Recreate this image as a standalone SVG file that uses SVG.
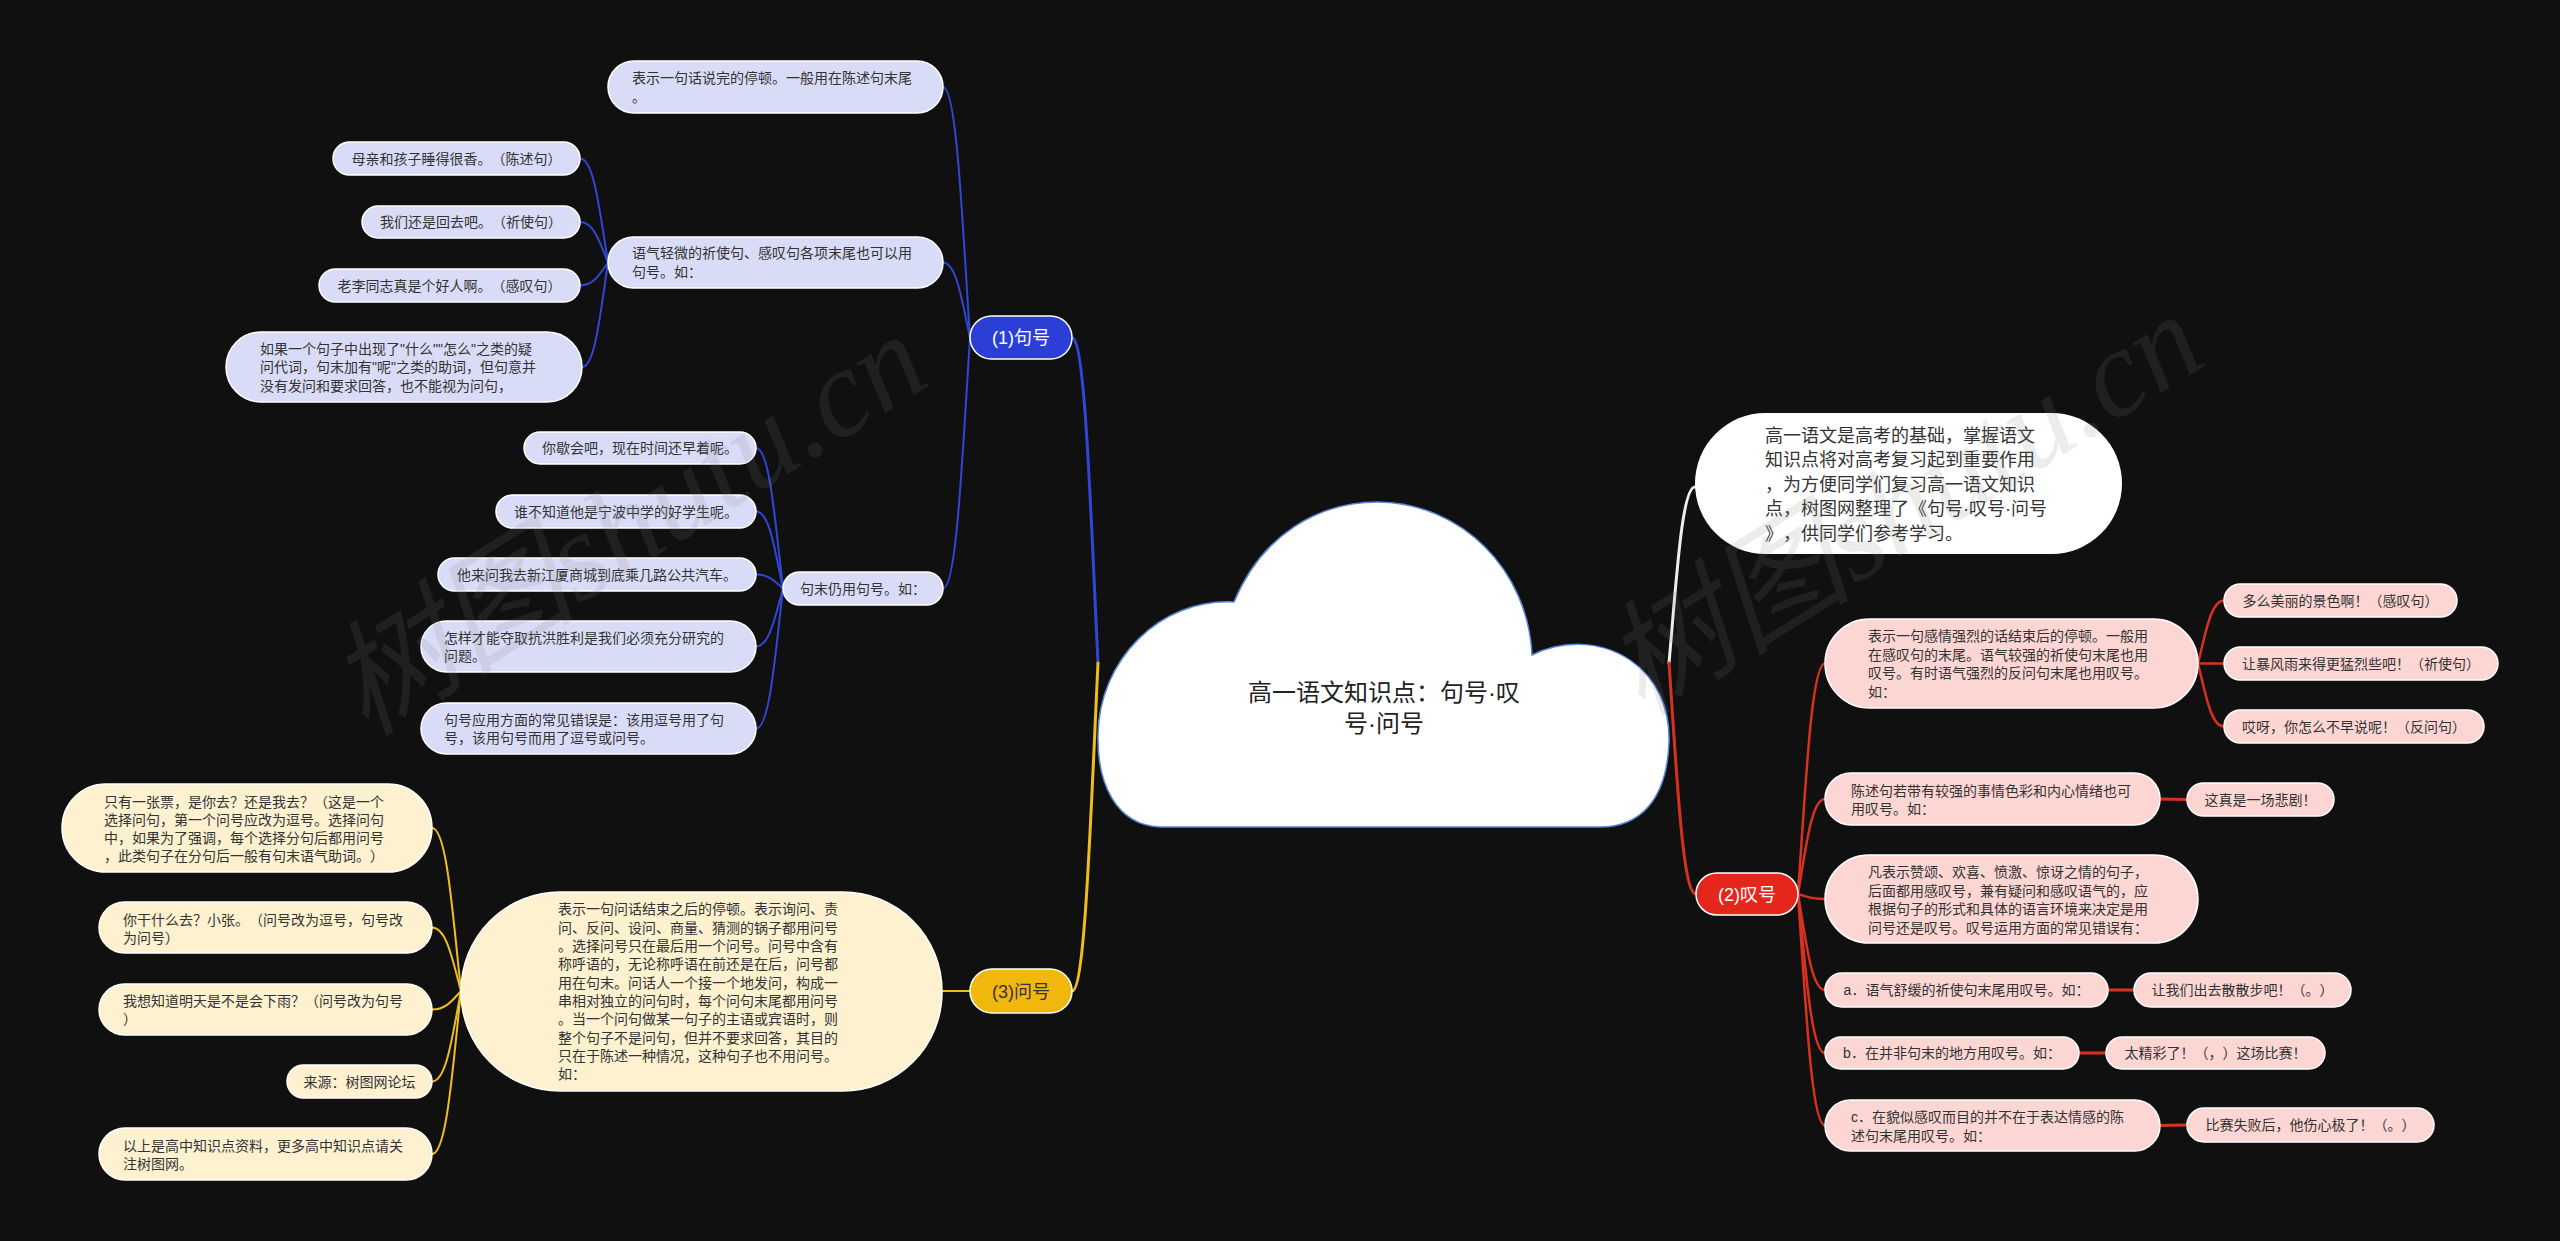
<svg xmlns="http://www.w3.org/2000/svg" width="2560" height="1241" viewBox="0 0 2560 1241">
<style>
text{font-family:"Liberation Sans","Noto Sans CJK SC",sans-serif;text-spacing-trim:space-all;}
.t{font-size:14px;fill:#333;}
.m{text-anchor:middle;}
.tm{font-size:18px;}
.bl{fill:#d9dcf7;stroke:#fff;stroke-width:1.5;}
.bm{fill:#2b3fd6;stroke:#fff;stroke-width:1.5;}
.yl{fill:#fdf1d0;stroke:#fff;stroke-width:1.5;}
.ym{fill:#f0b70c;stroke:#fff;stroke-width:1.5;}
.rl{fill:#fcd6d3;stroke:#fff;stroke-width:1.5;}
.rm{fill:#e5261b;stroke:#fff;stroke-width:1.5;}
.wh{fill:#fff;}
.c{fill:none;stroke-width:2;stroke-linecap:round;}
.cb{stroke:#3047d6;}
.cy{stroke:#f0bc20;}
.cr{stroke:#d8321f;stroke-width:2.5;}
.cw{stroke:#eeeeee;}
.main{stroke-width:3;}
.wm{font-family:"Liberation Serif","Noto Sans CJK SC",serif;font-size:125px;font-style:italic;fill:#808080;opacity:0.14;}
</style>
<rect x="0" y="0" width="2560" height="1241" fill="#101010"/>

<g id="connectors">
<path class="c cb main" d="M1098,663 C1090.2,500.5 1085,338 1072,338"/>
<path class="c cy main" d="M1098,663 C1090.2,827 1085,991 1072,991"/>
<path class="c cw main" d="M1669,663 C1676.8,575 1682,487 1695,487"/>
<path class="c cr main" d="M1669,663 C1677.1,778.5 1682.5,894 1696,894"/>
<path class="c cb" d="M970,338 C961.9,212.5 956.5,87 943,87"/>
<path class="c cb" d="M970,338 C961.9,300.25 956.5,262.5 943,262.5"/>
<path class="c cb" d="M970,338 C961.9,463.25 956.5,588.5 943,588.5"/>
<path class="c cb" d="M608,262.5 C599.6,210.5 594,158.5 580,158.5"/>
<path class="c cb" d="M608,262.5 C599.6,242.25 594,222 580,222"/>
<path class="c cb" d="M608,262.5 C599.6,274 594,285.5 580,285.5"/>
<path class="c cb" d="M608,262.5 C600.2,314.75 595,367 582,367"/>
<path class="c cb" d="M783,588.5 C774.9,518.25 769.5,448 756,448"/>
<path class="c cb" d="M783,588.5 C774.9,550 769.5,511.5 756,511.5"/>
<path class="c cb" d="M783,588.5 C774.9,581.5 769.5,574.5 756,574.5"/>
<path class="c cb" d="M783,588.5 C774.9,617.5 769.5,646.5 756,646.5"/>
<path class="c cb" d="M783,588.5 C774.9,658.5 769.5,728.5 756,728.5"/>
<path class="c cy" d="M970,991 L942,991"/>
<path class="c cy" d="M461,991 C452.3,909.5 446.5,828 432,828"/>
<path class="c cy" d="M461,991 C452.3,959.25 446.5,927.5 432,927.5"/>
<path class="c cy" d="M461,991 C452.3,1000.25 446.5,1009.5 432,1009.5"/>
<path class="c cy" d="M461,991 C452.3,1036.25 446.5,1081.5 432,1081.5"/>
<path class="c cy" d="M461,991 C452.3,1072.5 446.5,1154 432,1154"/>
<path class="c cr" d="M1798,894 C1806.1,778.75 1811.5,663.5 1825,663.5"/>
<path class="c cr" d="M1798,894 C1806.1,846.5 1811.5,799 1825,799"/>
<path class="c cr" d="M1798,894 C1806.1,896.5 1811.5,899 1825,899"/>
<path class="c cr" d="M1798,894 C1806.1,942 1811.5,990 1825,990"/>
<path class="c cr" d="M1798,894 C1806.1,973.5 1811.5,1053 1825,1053"/>
<path class="c cr" d="M1798,894 C1806.1,1009.75 1811.5,1125.5 1825,1125.5"/>
<path class="c cr" d="M2198,663.5 C2205.8,632 2211,600.5 2224,600.5"/>
<path class="c cr" d="M2198,663.5 L2224,663.5"/>
<path class="c cr" d="M2198,663.5 C2205.8,695 2211,726.5 2224,726.5"/>
<path class="c cr" style="stroke-width:3" d="M2160,799 L2187,799.5"/>
<path class="c cr" style="stroke-width:3" d="M2108,990 L2134,990"/>
<path class="c cr" style="stroke-width:3" d="M2079,1053 L2106,1053"/>
<path class="c cr" style="stroke-width:3" d="M2160,1125.5 L2187,1125"/>
</g>

<g id="root">
<path d="M1160,827 C1115,825 1097,782 1098,735 C1099,660 1160,598 1234,602 C1262,535 1318,502 1378,502 C1462,503 1528,570 1532,655 C1562,640 1600,640 1630,660 C1658,679 1670,710 1669,742 C1667,800 1640,827 1600,827 Z" fill="#fff" stroke="#5a86d6" stroke-width="1.5"/>
<text class="m" font-size="24" fill="#222" x="1384" y="701">高一语文知识点：句号·叹</text>
<text class="m" font-size="24" fill="#222" x="1384" y="732">号·问号</text>
</g>

<g id="b1">
<rect class="bm" x="970" y="316" width="102" height="43" rx="21.5"/>
<text class="tm m" fill="#fff" x="1021" y="344.3">(1)句号</text>
</g>
<g id="n1">
<rect class="bl" x="608" y="61" width="335" height="52" rx="26"/>
<text class="t"><tspan x="632" y="82.8">表示一句话说完的停顿。一般用在陈述句末尾</tspan><tspan x="632" y="101.8">。</tspan></text>
</g>
<g id="n2">
<rect class="bl" x="608" y="237" width="335" height="51" rx="25.5"/>
<text class="t"><tspan x="632" y="258.3">语气轻微的祈使句、感叹句各项末尾也可以用</tspan><tspan x="632" y="277.3">句号。如：</tspan></text>
</g>
<g id="n3">
<rect class="bl" x="333" y="142" width="247" height="33" rx="16.5"/>
<text class="t m" x="456.5" y="163.8">母亲和孩子睡得很香。（陈述句）</text>
</g>
<g id="n4">
<rect class="bl" x="362" y="206" width="218" height="32" rx="16"/>
<text class="t m" x="471" y="227.3">我们还是回去吧。（祈使句）</text>
</g>
<g id="n5">
<rect class="bl" x="319" y="269" width="261" height="33" rx="16.5"/>
<text class="t m" x="449.5" y="290.8">老李同志真是个好人啊。（感叹句）</text>
</g>
<g id="n6">
<rect class="bl" x="226" y="332" width="356" height="70" rx="35"/>
<text class="t"><tspan x="260" y="353.8">如果一个句子中出现了"什么""怎么"之类的疑</tspan><tspan x="260" y="372.3">问代词，句末加有"呢"之类的助词，但句意并</tspan><tspan x="260" y="390.8">没有发问和要求回答，也不能视为问句，</tspan></text>
</g>
<g id="n7">
<rect class="bl" x="783" y="572" width="160" height="33" rx="16.5"/>
<text class="t m" x="863" y="593.8">句末仍用句号。如：</text>
</g>
<g id="n8">
<rect class="bl" x="524" y="432" width="232" height="32" rx="16"/>
<text class="t m" x="640" y="453.3">你歇会吧，现在时间还早着呢。</text>
</g>
<g id="n9">
<rect class="bl" x="496" y="495" width="260" height="33" rx="16.5"/>
<text class="t m" x="626" y="516.8">谁不知道他是宁波中学的好学生呢。</text>
</g>
<g id="n10">
<rect class="bl" x="438" y="558" width="318" height="33" rx="16.5"/>
<text class="t m" x="597" y="579.8">他来问我去新江厦商城到底乘几路公共汽车。</text>
</g>
<g id="n11">
<rect class="bl" x="421" y="621" width="335" height="51" rx="25.5"/>
<text class="t"><tspan x="444" y="642.5">怎样才能夺取抗洪胜利是我们必须充分研究的</tspan><tspan x="444" y="661">问题。</tspan></text>
</g>
<g id="n12">
<rect class="bl" x="421" y="703" width="335" height="51" rx="25.5"/>
<text class="t"><tspan x="444" y="724.5">句号应用方面的常见错误是：该用逗号用了句</tspan><tspan x="444" y="743">号，该用句号而用了逗号或问号。</tspan></text>
</g>

<g id="y0">
<rect class="ym" x="970" y="969" width="102" height="44" rx="22"/>
<text class="tm m" fill="#333" x="1021" y="997.8">(3)问号</text>
</g>
<g id="yb">
<rect class="yl" x="461" y="892" width="481" height="199" rx="99"/>
<text class="t"><tspan x="558" y="914.4">表示一句问话结束之后的停顿。表示询问、责</tspan><tspan x="558" y="932.7">问、反问、设问、商量、猜测的锅子都用问号</tspan><tspan x="558" y="951">。选择问号只在最后用一个问号。问号中含有</tspan><tspan x="558" y="969.3">称呼语的，无论称呼语在前还是在后，问号都</tspan><tspan x="558" y="987.6">用在句末。问话人一个接一个地发问，构成一</tspan><tspan x="558" y="1005.9">串相对独立的问句时，每个问句末尾都用问号</tspan><tspan x="558" y="1024.2">。当一个问句做某一句子的主语或宾语时，则</tspan><tspan x="558" y="1042.5">整个句子不是问句，但并不要求回答，其目的</tspan><tspan x="558" y="1060.8">只在于陈述一种情况，这种句子也不用问号。</tspan><tspan x="558" y="1079.1">如：</tspan></text>
</g>
<g id="y1">
<rect class="yl" x="62" y="784" width="370" height="88" rx="44"/>
<text class="t"><tspan x="104" y="807.3">只有一张票，是你去？还是我去？（这是一个</tspan><tspan x="104" y="825.3">选择问句，第一个问号应改为逗号。选择问句</tspan><tspan x="104" y="843.3">中，如果为了强调，每个选择分句后都用问号</tspan><tspan x="104" y="861.3">，此类句子在分句后一般有句末语气助词。）</tspan></text>
</g>
<g id="y2">
<rect class="yl" x="99" y="902" width="333" height="51" rx="25.5"/>
<text class="t"><tspan x="123" y="925.3">你干什么去？小张。（问号改为逗号，句号改</tspan><tspan x="123" y="943.3">为问号）</tspan></text>
</g>
<g id="y3">
<rect class="yl" x="99" y="984" width="333" height="51" rx="25.5"/>
<text class="t"><tspan x="123" y="1006.3">我想知道明天是不是会下雨？（问号改为句号</tspan><tspan x="123" y="1024.3">）</tspan></text>
</g>
<g id="y4">
<rect class="yl" x="287" y="1065" width="145" height="33" rx="16.5"/>
<text class="t m" x="359.5" y="1086.8">来源：树图网论坛</text>
</g>
<g id="y5">
<rect class="yl" x="99" y="1128" width="333" height="52" rx="26"/>
<text class="t"><tspan x="123" y="1151.3">以上是高中知识点资料，更多高中知识点请关</tspan><tspan x="123" y="1169.3">注树图网。</tspan></text>
</g>

<g id="w1">
<rect class="wh" x="1695" y="413" width="427" height="141" rx="70.5"/>
<text font-size="18" fill="#333"><tspan x="1765" y="441.8">高一语文是高考的基础，掌握语文</tspan><tspan x="1765" y="466.3">知识点将对高考复习起到重要作用</tspan><tspan x="1765" y="490.8">，为方便同学们复习高一语文知识</tspan><tspan x="1765" y="515.3">点，树图网整理了《句号·叹号·问号</tspan><tspan x="1765" y="539.8">》，供同学们参考学习。</tspan></text>
</g>

<g id="r0">
<rect class="rm" x="1696" y="873" width="102" height="42" rx="21"/>
<text class="tm m" fill="#fff" x="1747" y="900.8">(2)叹号</text>
</g>
<g id="r1">
<rect class="rl" x="1825" y="619" width="373" height="89" rx="44.5"/>
<text class="t"><tspan x="1868" y="641.3">表示一句感情强烈的话结束后的停顿。一般用</tspan><tspan x="1868" y="659.8">在感叹句的末尾。语气较强的祈使句末尾也用</tspan><tspan x="1868" y="678.3">叹号。有时语气强烈的反问句末尾也用叹号。</tspan><tspan x="1868" y="696.8">如：</tspan></text>
</g>
<g id="r1a">
<rect class="rl" x="2224" y="584" width="233" height="33" rx="16.5"/>
<text class="t m" x="2340.5" y="605.8">多么美丽的景色啊！（感叹句）</text>
</g>
<g id="r1b">
<rect class="rl" x="2224" y="647" width="274" height="33" rx="16.5"/>
<text class="t m" x="2361" y="668.8">让暴风雨来得更猛烈些吧！（祈使句）</text>
</g>
<g id="r1c">
<rect class="rl" x="2224" y="710" width="260" height="33" rx="16.5"/>
<text class="t m" x="2354" y="731.8">哎呀，你怎么不早说呢！（反问句）</text>
</g>
<g id="r2">
<rect class="rl" x="1825" y="773" width="335" height="52" rx="26"/>
<text class="t"><tspan x="1851" y="795.8">陈述句若带有较强的事情色彩和内心情绪也可</tspan><tspan x="1851" y="814.3">用叹号。如：</tspan></text>
</g>
<g id="r2a">
<rect class="rl" x="2187" y="783" width="147" height="33" rx="16.5"/>
<text class="t m" x="2260.5" y="804.8">这真是一场悲剧！</text>
</g>
<g id="r3">
<rect class="rl" x="1825" y="855" width="373" height="88" rx="44"/>
<text class="t"><tspan x="1868" y="877.3">凡表示赞颂、欢喜、愤激、惊讶之情的句子，</tspan><tspan x="1868" y="895.8">后面都用感叹号，兼有疑问和感叹语气的，应</tspan><tspan x="1868" y="914.3">根据句子的形式和具体的语言环境来决定是用</tspan><tspan x="1868" y="932.8">问号还是叹号。叹号运用方面的常见错误有：</tspan></text>
</g>
<g id="r4">
<rect class="rl" x="1825" y="973" width="283" height="34" rx="17"/>
<text class="t m" x="1966.5" y="995.3">a．语气舒缓的祈使句末尾用叹号。如：</text>
</g>
<g id="r4a">
<rect class="rl" x="2134" y="973" width="217" height="34" rx="17"/>
<text class="t m" x="2242.5" y="995.3">让我们出去散散步吧！（。）</text>
</g>
<g id="r5">
<rect class="rl" x="1825" y="1037" width="254" height="32" rx="16"/>
<text class="t m" x="1952" y="1058.3">b．在并非句末的地方用叹号。如：</text>
</g>
<g id="r5a">
<rect class="rl" x="2106" y="1037" width="219" height="32" rx="16"/>
<text class="t m" x="2215.5" y="1058.3">太精彩了！（，）这场比赛！</text>
</g>
<g id="r6">
<rect class="rl" x="1825" y="1100" width="335" height="51" rx="25.5"/>
<text class="t"><tspan x="1851" y="1122.3">c．在貌似感叹而目的并不在于表达情感的陈</tspan><tspan x="1851" y="1141.3">述句末尾用叹号。如：</tspan></text>
</g>
<g id="r6a">
<rect class="rl" x="2187" y="1108" width="247" height="34" rx="17"/>
<text class="t m" x="2310.5" y="1130.3">比赛失败后，他伤心极了！（。）</text>
</g>

<g id="watermark">
<text class="wm m" transform="translate(650,560) rotate(-32)">树图shutu.cn</text>
<text class="wm m" transform="translate(1926,540) rotate(-32)">树图shutu.cn</text>
</g>
</svg>
